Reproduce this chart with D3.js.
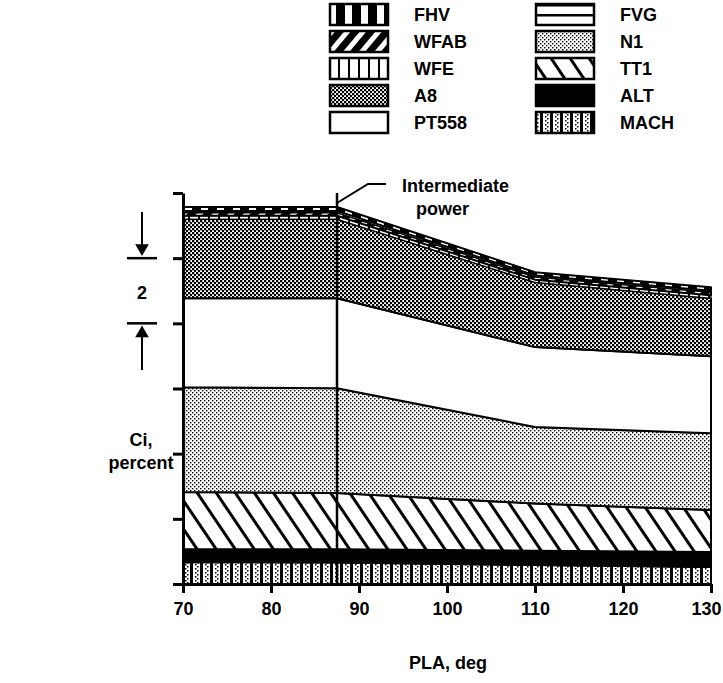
<!DOCTYPE html>
<html>
<head>
<meta charset="utf-8">
<script src="https://cdn.jsdelivr.net/npm/d3@7"></script>
<style>
  body { margin: 0; background: #fff; }
  svg text { font-family: "Liberation Sans", Arial, sans-serif; font-weight: bold; fill: #000; }
</style>
</head>
<body>
<svg id="chart" width="723" height="683"></svg>
<script>
// PLA, deg at the break points of the curves
const pla = [70, 87.5, 110, 130];

// contribution of each parameter to Ci, percent (stacked, bottom first)
const mach  = [0.67, 0.66, 0.58, 0.52];
const alt   = [0.40, 0.41, 0.44, 0.46];
const tt1   = [1.75, 1.72, 1.45, 1.29];
const n1    = [3.22, 3.22, 2.35, 2.36];
const pt558 = [2.73, 2.76, 2.45, 2.36];
const a8    = [2.43, 2.43, 1.99, 1.78];
const wfe   = [0.10, 0.10, 0.08, 0.09];
const wfab  = [0.10, 0.10, 0.09, 0.10];
const fvg   = [0.05, 0.05, 0.04, 0.04];
const fhv   = [0.12, 0.12, 0.10, 0.11];

const stackKeys = ["MACH", "ALT", "TT1", "N1", "PT558", "A8", "WFE", "WFAB", "FVG", "FHV"];
const series = { MACH: mach, ALT: alt, TT1: tt1, N1: n1, PT558: pt558, A8: a8,
                 WFE: wfe, WFAB: wfab, FVG: fvg, FHV: fhv };

// legend columns, top to bottom
const legendLeft  = ["FHV", "WFAB", "WFE", "A8", "PT558"];
const legendRight = ["FVG", "N1", "TT1", "ALT", "MACH"];

const xTicks = [70, 80, 90, 100, 110, 120, 130];
const yTicks = [0, 2, 4, 6, 8, 10, 12];
const intermediatePla = 87.5;

const svg = d3.select("#chart");

const x = d3.scaleLinear().domain([70, 130]).range([183, 711]);
const y = d3.scaleLinear().domain([0, 12]).range([584, 193]);

// ---- fill patterns (black and white halftones of the original) ----
const defs = svg.append("defs");

function stripes(id, bg, fg, period, thick, angle) {
    const p = defs.append("pattern")
        .attr("id", id)
        .attr("patternUnits", "userSpaceOnUse")
        .attr("width", period).attr("height", period)
        .attr("patternTransform", "rotate(" + angle + ")");
    p.append("rect").attr("width", period).attr("height", period).attr("fill", bg);
    p.append("rect").attr("y", 0).attr("width", period).attr("height", thick).attr("fill", fg);
}

stripes("p-FHV", "#000", "#fff", 16, 7, 90);
stripes("p-WFAB", "#000", "#fff", 12, 5, -50);
stripes("p-WFE", "#fff", "#000", 10, 2, 90);
stripes("p-FVG", "#fff", "#000", 10, 2.5, 0);
stripes("p-TT1", "#fff", "#000", 15.8, 3, 56);

// A8: dark checker dither
let p = defs.append("pattern").attr("id", "p-A8")
    .attr("patternUnits", "userSpaceOnUse").attr("width", 4).attr("height", 4);
p.append("rect").attr("width", 4).attr("height", 4).attr("fill", "#fff");
p.append("rect").attr("width", 2.3).attr("height", 2.3).attr("fill", "#000");
p.append("rect").attr("x", 2).attr("y", 2).attr("width", 2.3).attr("height", 2.3).attr("fill", "#000");

// N1: light stipple
p = defs.append("pattern").attr("id", "p-N1")
    .attr("patternUnits", "userSpaceOnUse").attr("width", 4).attr("height", 4);
p.append("rect").attr("width", 4).attr("height", 4).attr("fill", "#fff");
p.append("rect").attr("width", 1.4).attr("height", 1.4).attr("fill", "#000");
p.append("rect").attr("x", 2).attr("y", 2).attr("width", 1.4).attr("height", 1.4).attr("fill", "#000");

// MACH: black bars with dotted columns between them
p = defs.append("pattern").attr("id", "p-MACH")
    .attr("patternUnits", "userSpaceOnUse").attr("width", 10).attr("height", 4);
p.append("rect").attr("width", 10).attr("height", 4).attr("fill", "#fff");
p.append("rect").attr("width", 3).attr("height", 4).attr("fill", "#000");
p.append("rect").attr("x", 5).attr("y", 0).attr("width", 1.5).attr("height", 1.5).attr("fill", "#000");
p.append("rect").attr("x", 7).attr("y", 2).attr("width", 1.5).attr("height", 1.5).attr("fill", "#000");

const fillFor = k => k === "ALT" ? "#000" : k === "PT558" ? "#fff" : "url(#p-" + k + ")";

// ---- stacked areas ----
const rows = pla.map((v, i) => {
    const r = { pla: v };
    stackKeys.forEach(k => { r[k] = series[k][i]; });
    return r;
});
const stacked = d3.stack().keys(stackKeys)(rows);

const area = d3.area()
    .x(d => x(d.data.pla))
    .y0(d => y(d[0]))
    .y1(d => y(d[1]));

svg.append("g").selectAll("path")
    .data(stacked)
    .join("path")
    .attr("d", area)
    .attr("fill", d => fillFor(d.key))
    .attr("stroke", "#000")
    .attr("stroke-width", d => d.key === "FVG" || d.key === "WFE" ? 1 : 2)
    .attr("stroke-linejoin", "round");

// ---- axes ----
const xAxis = svg.append("g")
    .attr("transform", "translate(0," + y(0) + ")")
    .call(d3.axisBottom(x).tickValues(xTicks).tickSize(9).tickSizeOuter(0).tickPadding(9));
xAxis.selectAll("text").style("font-size", "18px")
    .attr("dx", d => d === 130 ? -5 : 0);

const yAxis = svg.append("g")
    .attr("transform", "translate(" + x(70) + ",0)")
    .call(d3.axisLeft(y).tickValues(yTicks).tickSize(10).tickSizeOuter(0).tickFormat(""));

svg.selectAll(".domain, .tick line").attr("stroke", "#000").attr("stroke-width", 3);

// intermediate power marker
svg.append("line")
    .attr("x1", x(intermediatePla)).attr("x2", x(intermediatePla))
    .attr("y1", y(0)).attr("y2", y(12))
    .attr("stroke", "#000").attr("stroke-width", 2.5);
svg.append("path")
    .attr("d", "M" + x(intermediatePla) + "," + (y(12) + 10) + "L368,184L386,184")
    .attr("fill", "none").attr("stroke", "#000").attr("stroke-width", 2);
svg.append("text").attr("x", 402).attr("y", 192).style("font-size", "18px").text("Intermediate");
svg.append("text").attr("x", 416).attr("y", 215).style("font-size", "18px").text("power");

// "2" scale bracket on the left
const ax = 142;
svg.append("line").attr("x1", ax).attr("x2", ax).attr("y1", 212).attr("y2", y(10) - 12)
    .attr("stroke", "#000").attr("stroke-width", 2);
svg.append("path").attr("d", d3.symbol(d3.symbolTriangle, 80)())
    .attr("transform", "translate(" + ax + "," + (y(10) - 10) + ") rotate(180)");
svg.append("line").attr("x1", 127).attr("x2", 157).attr("y1", y(10)).attr("y2", y(10))
    .attr("stroke", "#000").attr("stroke-width", 2.5);
svg.append("line").attr("x1", 127).attr("x2", 157).attr("y1", y(8)).attr("y2", y(8))
    .attr("stroke", "#000").attr("stroke-width", 2.5);
svg.append("path").attr("d", d3.symbol(d3.symbolTriangle, 80)())
    .attr("transform", "translate(" + ax + "," + (y(8) + 10) + ")");
svg.append("line").attr("x1", ax).attr("x2", ax).attr("y1", y(8) + 12).attr("y2", 370)
    .attr("stroke", "#000").attr("stroke-width", 2);
svg.append("text").attr("x", ax).attr("y", 299).attr("text-anchor", "middle")
    .style("font-size", "18px").text("2");

// axis titles
svg.append("text").attr("x", 141).attr("y", 446).attr("text-anchor", "middle")
    .style("font-size", "18px").text("Ci,");
svg.append("text").attr("x", 141).attr("y", 469).attr("text-anchor", "middle")
    .style("font-size", "18px").text("percent");
svg.append("text").attr("x", 448).attr("y", 669).attr("text-anchor", "middle")
    .style("font-size", "18px").text("PLA, deg");

// ---- legend ----
function legendColumn(keys, sx, tx) {
    const g = svg.append("g");
    const item = g.selectAll("g").data(keys).join("g")
        .attr("transform", (d, i) => "translate(0," + (4 + i * 27) + ")");
    item.append("rect")
        .attr("x", sx).attr("width", 58).attr("height", 21)
        .attr("fill", d => fillFor(d))
        .attr("stroke", "#000").attr("stroke-width", 2.5);
    item.append("text")
        .attr("x", tx).attr("y", 17)
        .style("font-size", "18px")
        .text(d => d);
}
legendColumn(legendLeft, 330, 414);
legendColumn(legendRight, 536, 620);
</script>
</body>
</html>
